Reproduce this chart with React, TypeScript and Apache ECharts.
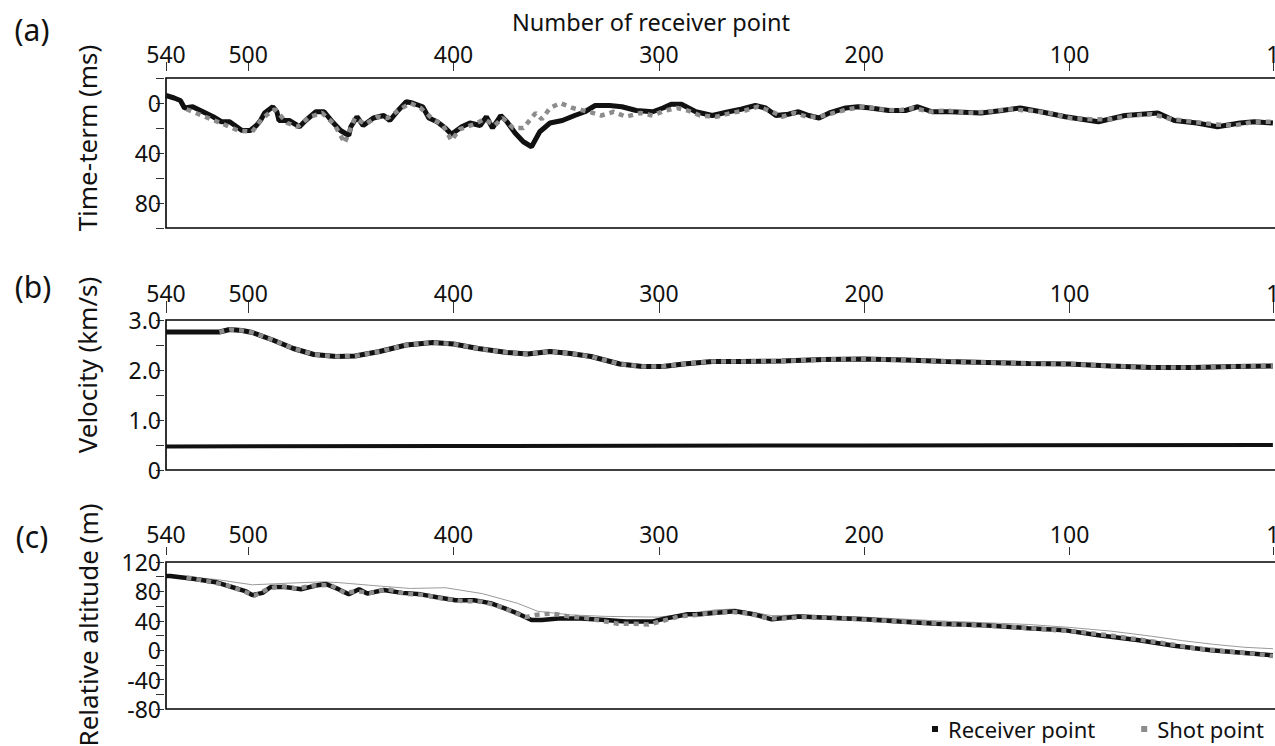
import React, { useEffect, useRef } from "react";
import * as echarts from "echarts";

// ---- x axis (receiver point number) ----
const xTicks = [540, 500, 400, 300, 200, 100, 1];

// ---- (a) time-term, ms : [receiver point no., value] ----
const timeRecv = [
  [540, -6], [536, -4], [533, -2], [531, 4], [527, 3], [522, 7], [517, 11], [513, 15], [509, 15], [503, 22],
  [499, 22], [496, 18], [494, 14], [492, 8], [488, 3], [486, 7], [485, 14], [480, 14], [475, 19], [472, 14],
  [467, 7], [463, 7], [459, 15], [455, 22], [451, 26], [450, 19], [447, 11], [444, 18], [439, 12], [434, 10],
  [431, 14], [427, 6], [423, -1], [420, 0], [415, 3], [412, 12], [408, 15], [404, 20], [401, 25], [396, 19],
  [392, 16], [387, 18], [384, 11], [381, 20], [377, 10], [374, 15], [370, 24], [366, 31], [362, 35], [358, 23],
  [353, 16], [347, 14], [341, 10], [336, 7], [331, 2], [324, 2], [318, 3], [311, 6], [303, 7], [298, 4],
  [294, 1], [289, 1], [282, 7], [274, 10], [266, 7], [260, 5], [253, 2], [248, 4], [243, 10], [237, 9],
  [232, 7], [227, 10], [222, 12], [217, 8], [209, 4], [203, 3], [197, 4], [188, 6], [180, 6], [174, 3],
  [167, 7], [158, 7], [143, 8], [133, 6], [124, 4], [114, 7], [102, 11], [86, 15], [73, 10], [57, 8],
  [49, 14], [38, 16], [28, 19], [17, 16], [10, 15], [1, 16],
];
const timeShot = [
  [530, 5], [524, 9], [518, 13], [512, 17], [505, 22], [498, 23], [493, 12], [487, 5], [481, 16], [476, 19],
  [470, 11], [464, 8], [458, 17], [453, 32], [448, 12], [443, 17], [437, 11], [432, 12], [426, 5], [421, 0],
  [416, 4], [410, 13], [405, 18], [401, 30], [397, 21], [390, 17], [385, 13], [380, 18], [376, 12], [371, 20],
  [366, 20], [360, 8], [357, 13], [353, 4], [348, 0], [342, 4], [334, 7], [328, 10], [322, 7], [316, 11],
  [309, 8], [303, 10], [297, 6], [291, 4], [286, 6], [280, 10], [272, 11], [265, 8], [258, 6], [252, 3],
  [246, 6], [240, 11], [234, 8], [228, 11], [222, 11], [215, 8], [208, 5], [200, 3], [192, 5], [184, 6],
  [176, 4], [168, 7], [160, 6], [150, 8], [140, 7], [130, 5], [120, 6], [110, 8], [100, 12], [90, 13],
  [80, 13], [70, 10], [60, 9], [50, 13], [40, 15], [30, 17], [20, 18], [10, 15], [1, 15],
];

// ---- (b) velocity, km/s ----
const velRecv = [
  [540, 2.76], [530, 2.76], [520, 2.76], [514, 2.76], [509, 2.81], [503, 2.79], [498, 2.75], [488, 2.6],
  [478, 2.43], [468, 2.31], [457, 2.27], [448, 2.28], [436, 2.37], [423, 2.5], [410, 2.55], [400, 2.52],
  [388, 2.43], [374, 2.35], [364, 2.32], [353, 2.37], [343, 2.33], [333, 2.27], [319, 2.12], [308, 2.07],
  [298, 2.07], [288, 2.12], [274, 2.17], [260, 2.17], [240, 2.18], [220, 2.21], [200, 2.22], [180, 2.2],
  [160, 2.17], [140, 2.15], [120, 2.13], [100, 2.12], [80, 2.08], [60, 2.05], [40, 2.05], [20, 2.07], [1, 2.08],
];
const shotStart = 514;
const velLower = [[540, 0.47], [400, 0.48], [200, 0.49], [1, 0.5]];

// ---- (c) relative altitude, m ----
const altRecv = [
  [540, 101], [538, 101], [526, 97], [515, 92], [508, 86], [501, 80], [498, 75], [493, 78], [489, 86], [482, 86],
  [474, 83], [467, 88], [462, 90], [456, 83], [451, 76], [446, 83], [442, 77], [434, 82], [425, 78], [416, 76],
  [408, 72], [399, 68], [390, 68], [382, 64], [375, 57], [368, 49], [362, 41], [357, 41], [349, 43], [338, 43],
  [326, 41], [316, 39], [303, 39], [297, 43], [286, 49], [280, 49], [272, 51], [263, 53], [254, 49], [245, 42],
  [232, 46], [218, 44], [200, 42], [183, 39], [165, 36], [142, 34], [120, 30], [102, 27], [85, 20], [67, 14],
  [49, 6], [31, 0], [13, -4], [1, -7],
];
const altShot = [
  [530, 99], [520, 94], [510, 88], [503, 81], [497, 74], [490, 84], [484, 87], [476, 84], [468, 88], [460, 89],
  [453, 78], [447, 80], [440, 78], [432, 83], [424, 77], [414, 75], [405, 70], [396, 67], [386, 66], [378, 60],
  [371, 52], [365, 45], [360, 48], [352, 50], [344, 46], [336, 44], [328, 40], [320, 36], [312, 36], [305, 35],
  [298, 40], [290, 46], [282, 48], [274, 51], [265, 52], [256, 50], [248, 44], [240, 43], [230, 45], [215, 44],
  [195, 41], [175, 38], [155, 35], [135, 33], [115, 29], [95, 25], [75, 18], [55, 10], [40, 3], [25, -1],
  [10, -5], [1, -8],
];
const altSurface = [
  [540, 103], [515, 96], [498, 89], [482, 91], [464, 93], [456, 92], [435, 87], [421, 84], [404, 85], [386, 77],
  [369, 64], [359, 53], [343, 48], [326, 46], [300, 45], [272, 55], [263, 56], [245, 47], [230, 48], [200, 45],
  [165, 40], [120, 35], [100, 31], [80, 26], [60, 19], [45, 13], [30, 8], [15, 4], [1, 2],
];

const FONT = "Noto Sans";
const BLACK = "#111";
const GRAY = "#8c8c8c";
const TICK_FS = 23;

export default function App() {
  const ref = useRef<HTMLDivElement>(null);
  useEffect(() => {
    if (!ref.current) return;
    const chart = echarts.init(ref.current, undefined, { renderer: "svg" });
    const grids = [
      { left: 166, top: 78, width: 1111, height: 150 },
      { left: 166, top: 320, width: 1111, height: 150 },
      { left: 166, top: 562, width: 1111, height: 147 },
    ].map((g) => ({
      ...g, show: true, borderColor: "#000", borderWidth: 1.6, backgroundColor: "transparent",
      containLabel: false, outerBoundsMode: "none",
    }));

    const xLayout = [
      { tick: 9, margin: 7 },
      { tick: 12, margin: 10 },
      { tick: 8, margin: 11 },
    ];
    const xAxes = xLayout.map((l, i) => ({
      type: "value",
      gridIndex: i,
      position: "top",
      min: -1,
      max: 540,
      inverse: true,
      offset: 7,
      axisLine: { show: false, onZero: false },
      axisTick: { show: true, length: l.tick, customValues: xTicks, lineStyle: { color: "#333", width: 1 } },
      axisLabel: {
        customValues: xTicks, fontSize: TICK_FS, lineHeight: 20, color: BLACK, margin: l.margin,
        fontFamily: FONT, hideOverlap: false,
      },
      splitLine: { show: false },
    }));

    const yCommon = {
      type: "value",
      offset: 2,
      axisLine: { show: false, onZero: false },
      axisTick: { show: true, length: 8, lineStyle: { color: "#333", width: 1 } },
      splitLine: { show: false },
    };
    const yAxes = [
      {
        ...yCommon, gridIndex: 0, min: -20, max: 100, interval: 20, inverse: true,
        axisLabel: { fontSize: TICK_FS, lineHeight: 20, color: BLACK, margin: 3, fontFamily: FONT,
          formatter: (v: number) => (v === 0 || v === 40 || v === 80 ? String(v) : "") },
      },
      {
        ...yCommon, gridIndex: 1, min: 0, max: 3, interval: 0.5,
        axisLabel: { fontSize: TICK_FS, lineHeight: 20, color: BLACK, margin: 3, fontFamily: FONT,
          formatter: (v: number) => (v === 0 ? "0" : Number.isInteger(v) ? v.toFixed(1) : "") },
      },
      {
        ...yCommon, gridIndex: 2, min: -80, max: 120, interval: 20,
        axisLabel: { fontSize: TICK_FS, lineHeight: 20, color: BLACK, margin: 3, fontFamily: FONT,
          formatter: (v: number) => (v % 40 === 0 ? String(v) : "") },
      },
    ];

    const recv = (data: number[][], idx: number, w = 4.5) => ({
      type: "line", name: "Receiver point", xAxisIndex: idx, yAxisIndex: idx, data,
      symbol: "none", color: BLACK, lineStyle: { color: BLACK, width: w }, z: 3,
    });
    const shot = (data: number[][], idx: number, w = 4) => ({
      type: "line", name: "Shot point", xAxisIndex: idx, yAxisIndex: idx, data,
      symbol: "none", color: GRAY, lineStyle: { color: GRAY, width: w, type: [5, 5] }, z: 4,
    });

    const series = [
      recv(timeRecv, 0, 5),
      shot(timeShot, 0, 4.5),
      recv(velRecv, 1, 5),
      shot(velRecv.filter((p) => p[0] <= shotStart), 1, 4.5),
      {
        type: "line", name: "Lower layer", xAxisIndex: 1, yAxisIndex: 1, data: velLower,
        symbol: "none", lineStyle: { color: BLACK, width: 4 }, z: 3,
      },
      {
        type: "line", name: "Surface", xAxisIndex: 2, yAxisIndex: 2, data: altSurface,
        symbol: "none", lineStyle: { color: "#9a9a9a", width: 1 }, z: 2,
      },
      recv(altRecv, 2, 4.5),
      shot(altShot, 2, 4.5),
    ];

    const txt = (text: string, x: number, y: number, size: number, rot = 0) => ({
      type: "text", x, y, rotation: rot,
      style: {
        text, fontSize: size, lineHeight: Math.round(size * 1.05), fontFamily: FONT, fill: BLACK,
        align: "center", verticalAlign: "middle",
      },
    });

    chart.setOption({
      animation: false,
      backgroundColor: "#fff",
      grid: grids,
      xAxis: xAxes,
      yAxis: yAxes,
      series,
      legend: {
        left: 927, top: 713, itemWidth: 6, itemHeight: 6, itemGap: 46, selectedMode: false,
        data: [
          { name: "Receiver point", icon: "rect", itemStyle: { color: BLACK, borderWidth: 0 } },
          { name: "Shot point", icon: "rect", itemStyle: { color: GRAY, borderWidth: 0 } },
        ],
        textStyle: { fontSize: 22, color: BLACK, fontFamily: FONT, padding: [0, 0, 0, 5] },
      },
      graphic: [
        txt("(a)", 32, 29, 30),
        txt("(b)", 33, 286, 30),
        txt("(c)", 32, 536, 30),
        txt("Number of receiver point", 651, 22, 23.5),
        txt("Time-term (ms)", 87, 138, 26, Math.PI / 2),
        txt("Velocity (km/s)", 87, 365, 26, Math.PI / 2),
        txt("Relative altitude (m)", 88, 625, 26, Math.PI / 2),
      ],
    });
    return () => chart.dispose();
  }, []);
  return <div ref={ref} style={{ position: "fixed", left: 0, top: 0, width: 1275, height: 746 }} />;
}
